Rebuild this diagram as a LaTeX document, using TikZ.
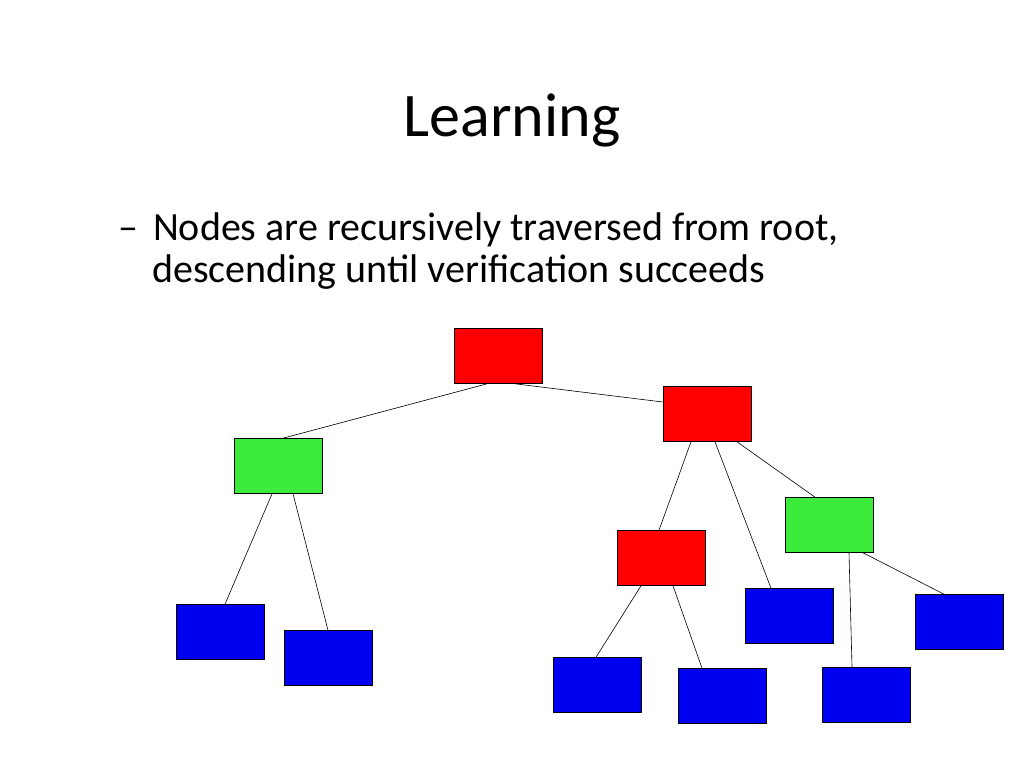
\documentclass[tikz,border=0pt]{standalone}
\usepackage{fontspec}
\setmainfont{Carlito}
\begin{document}
\begin{tikzpicture}[x=1pt,y=-1pt,
 box/.style={draw=black,line width=0.6pt,minimum width=88pt,minimum height=55pt,inner sep=0pt},
 rb/.style={box,fill=red}, gb/.style={box,fill={rgb,255:red,60;green,235;blue,60}}, bb/.style={box,fill={rgb,255:red,0;green,0;blue,240}},
 ln/.style={draw=black,line width=0.6pt}]
\useasboundingbox (0,0) rectangle (1024,768);
\node[font=\fontsize{62}{66}\selectfont] (title) at (512,120) {Learning};
\node[anchor=base west,align=left,inner sep=0pt,font=\fontsize{40}{42}\selectfont] (txt) at (118,282) {–\hspace{15pt}Nodes are recursively traversed from root,\\\hspace{34pt}descending until verification succeeds};
\node[rb] (r) at (498,356) {};
\node[rb] (r2) at (707,414) {};
\node[gb] (g1) at (278,466) {};
\node[gb] (g2) at (829,525) {};
\node[rb] (r3) at (661,558) {};
\node[bb] (b1) at (220,632) {};
\node[bb] (b2) at (328,658) {};
\node[bb] (b3) at (597,685) {};
\node[bb] (b4) at (722,696) {};
\node[bb] (b5) at (789,616) {};
\node[bb] (b6) at (866,695) {};
\node[bb] (b7) at (959,622) {};
\path[ln] ([xshift=-11pt]r.south) -- ([xshift=5pt]g1.north);
\path[ln] ([xshift=17pt]r.south) -- ([yshift=12pt]r2.west);
\path[ln] ([xshift=-16pt]r2.south) -- ([xshift=-2pt]r3.north);
\path[ln] ([xshift=8pt]r2.south) -- ([xshift=-18pt]b5.north);
\path[ln] ([xshift=30pt]r2.south) -- ([xshift=-14pt]g2.north);
\path[ln] ([xshift=-6pt]g1.south) -- ([xshift=5pt]b1.north);
\path[ln] ([xshift=15pt]g1.south) -- (b2.north);
\path[ln] ([xshift=-20pt]r3.south) -- ([xshift=-1pt]b3.north);
\path[ln] ([xshift=12pt]r3.south) -- ([xshift=-20pt]b4.north);
\path[ln] ([xshift=20pt]g2.south) -- ([xshift=-14pt]b6.north);
\path[ln] ([xshift=34pt]g2.south) -- ([xshift=-15pt]b7.north);
\end{tikzpicture}
\end{document}
